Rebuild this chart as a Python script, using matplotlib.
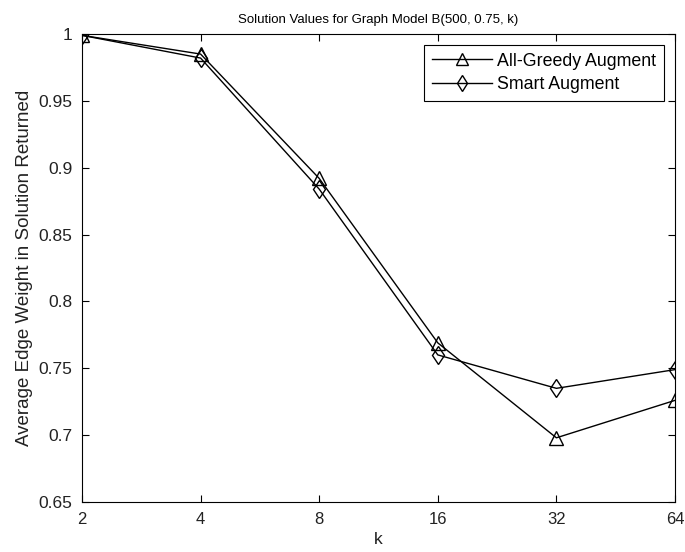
import matplotlib
matplotlib.use('Agg')
import matplotlib.pyplot as plt
import numpy as np

# values
k_vals = [2, 4, 8, 16, 32, 64]
greedy = [0.999, 0.985, 0.892, 0.769, 0.698, 0.726]
smart = [0.999, 0.982, 0.884, 0.760, 0.735, 0.749]
y_ticks = [0.65, 0.7, 0.75, 0.8, 0.85, 0.9, 0.95, 1]
y_tick_labels = ['0.65', '0.7', '0.75', '0.8', '0.85', '0.9', '0.95', '1']

plt.rcParams['font.family'] = ['Liberation Sans', 'DejaVu Sans']

fig = plt.figure(figsize=(6.85, 5.52), dpi=100)
ax = fig.add_axes([0.1197, 0.0906, 0.8657, 0.8478])

x = np.log2(k_vals)
ax.plot(x, greedy, color='black', linewidth=1, marker='^', markersize=9.5,
        markerfacecolor='none', markeredgecolor='black', label='All-Greedy Augment')
ax.plot(x, smart, color='black', linewidth=1, marker='d', markersize=9.5,
        markerfacecolor='none', markeredgecolor='black', label='Smart Augment')

ax.set_xlim(x[0], x[-1])
ax.set_ylim(0.65, 1)
ax.set_xticks(x)
ax.set_xticklabels([str(k) for k in k_vals])
ax.set_yticks(y_ticks)
ax.set_yticklabels(y_tick_labels)
ax.tick_params(direction='in', top=True, right=True, length=5, labelsize=12.5,
               colors='black', width=0.8, labelcolor='#222222')
ax.tick_params(axis='x', pad=7, labelsize=12)
ax.tick_params(axis='y', pad=7)
for s in ax.spines.values():
    s.set_linewidth(0.8)

ax.set_xlabel('k', fontsize=12.5, labelpad=4, color='#222222')
ax.set_ylabel('Average Edge Weight in Solution Returned', fontsize=13.5,
              labelpad=4, color='#222222')
ax.set_title('Solution Values for Graph Model B(500, 0.75, k)', fontsize=9.5, pad=8)

leg = ax.legend(loc='upper right', fontsize=12.8, fancybox=False, framealpha=1,
                edgecolor='black', handlelength=3.4, handletextpad=0.3,
                borderaxespad=0.6, borderpad=0.45, labelspacing=0.35,
                markerscale=0.85)
leg.get_frame().set_linewidth(0.8)

fig.savefig('out.png', dpi=100)
